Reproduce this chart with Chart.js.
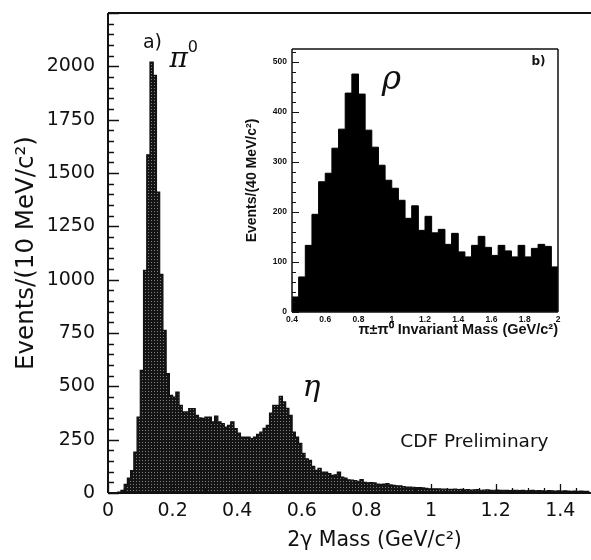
<!DOCTYPE html>
<html>
<head>
<meta charset="utf-8">
<script src="https://cdn.jsdelivr.net/npm/chart.js@4.4.1/dist/chart.umd.min.js"></script>
<style>
  html, body { margin: 0; padding: 0; background: #fff; }
  body { width: 591px; height: 560px; overflow: hidden; position: relative; }
  #main  { position: absolute; left: 0; top: 0; }
  #inset { position: absolute; left: 240px; top: 30px; }
</style>
</head>
<body>
<canvas id="main" width="650" height="560"></canvas>
<canvas id="inset" width="335" height="320"></canvas>
<script>
// a) two-photon mass, 10 MeV bins starting at 0
const gammaBinStart = 0;
const gammaBinWidth = 0.01;
const gammaCounts = [
  0, 0, 0, 4, 12, 40, 70, 105, 192, 356,
  575, 1044, 1585, 2020, 1958, 1411, 1025, 762, 560, 458,
  450, 473, 411, 380, 380, 396, 396, 364, 352, 350,
  356, 356, 333, 360, 333, 325, 309, 317, 333, 302,
  281, 262, 262, 262, 255, 262, 275, 285, 303, 317,
  374, 411, 411, 453, 427, 397, 364, 286, 262, 233,
  186, 160, 153, 125, 106, 115, 98, 98, 91, 83,
  85, 98, 75, 70, 62, 60, 58, 55, 63, 50,
  48, 49, 47, 42, 40, 42, 44, 38, 36, 34,
  33, 30, 28, 28, 27, 25, 25, 24, 22, 20,
  20, 20, 19, 18, 18, 17, 17, 18, 16, 17,
  15, 16, 14, 15, 16, 13, 14, 15, 12, 13,
  14, 12, 13, 12, 11, 12, 13, 11, 12, 10,
  11, 12, 10, 11, 10, 9, 11, 10, 9, 10,
  9, 10, 9, 8, 9, 8, 9, 8, 8
];
const gammaXTicks = [0, 0.2, 0.4, 0.6, 0.8, 1, 1.2, 1.4];
const gammaYTicks = [0, 250, 500, 750, 1000, 1250, 1500, 1750, 2000];

// b) pi+- pi0 mass, 40 MeV bins starting at 0.4
const pipiBinStart = 0.4;
const pipiBinWidth = 0.04;
const pipiCounts = [
  30, 70, 133, 195, 260, 277, 327, 365, 437, 475,
  435, 363, 329, 293, 263, 247, 223, 187, 212, 163,
  191, 158, 165, 135, 157, 120, 110, 133, 151, 129,
  113, 133, 122, 110, 133, 110, 127, 135, 131, 90
];
const pipiXTicks = [0.4, 0.6, 0.8, 1, 1.2, 1.4, 1.6, 1.8, 2];
const pipiYTicks = [0, 100, 200, 300, 400, 500];

const INK = '#111';
Chart.defaults.font.family = 'DejaVu Sans';
Chart.defaults.color = INK;

// histogram as a step outline: one point per left bin edge + closing edge
function steps(start, width, counts) {
  const pts = counts.map((c, i) => ({ x: start + i * width, y: c }));
  pts.push({ x: start + counts.length * width, y: counts[counts.length - 1] });
  return pts;
}

function inList(list, v) {
  return list.some(t => Math.abs(t - v) < 1e-6);
}

function fmtTick(v) {
  return String(Math.round(v * 10) / 10);
}

// dotted dark fill like the printed screen
function stipple(ctx) {
  const t = document.createElement('canvas');
  t.width = 3; t.height = 3;
  const c = t.getContext('2d');
  c.fillStyle = '#141414';
  c.fillRect(0, 0, 3, 3);
  c.fillStyle = '#808080';
  c.fillRect(1, 1, 1, 1);
  return ctx.createPattern(t, 'repeat');
}

// frame + inward tick marks
const framePlugin = {
  id: 'frame',
  afterDatasetsDraw(chart, args, o) {
    const { ctx, chartArea: a, scales: { x, y } } = chart;
    ctx.save();
    ctx.strokeStyle = INK;
    ctx.lineWidth = o.width;
    ctx.beginPath();
    ctx.moveTo(a.left, a.top); ctx.lineTo(a.right, a.top);
    ctx.moveTo(a.left, a.top); ctx.lineTo(a.left, a.bottom);
    ctx.moveTo(a.left, a.bottom); ctx.lineTo(a.right, a.bottom);
    if (o.right) { ctx.moveTo(a.right, a.top); ctx.lineTo(a.right, a.bottom); }
    ctx.stroke();

    ctx.lineWidth = o.tickWidth;
    ctx.beginPath();
    for (let v = y.min; v <= y.max + 1e-9; v += o.yMinor) {
      const py = Math.round(y.getPixelForValue(v)) + 0.5;
      const len = inList(o.yMajorList, v) ? o.majorLen : o.minorLen;
      ctx.moveTo(a.left, py); ctx.lineTo(a.left + len, py);
    }
    if (o.xMinor) {
      for (let v = x.min; v <= x.max + 1e-9; v += o.xMinor) {
        const px = Math.round(x.getPixelForValue(v)) + 0.5;
        const len = inList(o.xMajorList, v) ? o.majorLen - 2 : o.minorLen - 1;
        ctx.moveTo(px, a.bottom); ctx.lineTo(px, a.bottom - len);
      }
    }
    ctx.stroke();
    ctx.restore();
  }
};

// free text placed in data coordinates
const notesPlugin = {
  id: 'notes',
  afterDraw(chart, args, o) {
    const { ctx, scales: { x, y } } = chart;
    ctx.save();
    ctx.fillStyle = INK;
    ctx.textBaseline = 'alphabetic';
    for (const n of o.items) {
      ctx.font = n.font;
      ctx.textAlign = n.align || 'left';
      ctx.fillText(n.text, x.getPixelForValue(n.x), y.getPixelForValue(n.y));
    }
    ctx.restore();
  }
};

// fixed axis boxes so the plot area lands where the original has it
function fixY(w) {
  return s => { s.width = w; s.paddingTop = 0; s.paddingBottom = 0; };
}
function fixX(h) {
  return s => { s.height = h; s.paddingLeft = 0; s.paddingRight = 0; };
}

// ---- main chart a)
const mainCtx = document.getElementById('main').getContext('2d');
new Chart(mainCtx, {
  type: 'line',
  data: {
    datasets: [{
      data: steps(gammaBinStart, gammaBinWidth, gammaCounts),
      stepped: true,
      fill: 'origin',
      backgroundColor: stipple(mainCtx),
      borderColor: INK,
      borderWidth: 1.2,
      pointRadius: 0
    }]
  },
  options: {
    responsive: false,
    animation: false,
    events: [],
    layout: { padding: { left: 0, top: 13, right: 9, bottom: 0 } },
    plugins: {
      legend: { display: false },
      tooltip: { enabled: false },
      frame: {
        width: 2, right: false, tickWidth: 1.3,
        yMinor: 50, yMajorList: gammaYTicks.concat([2250]),
        xMinor: 0.05, xMajorList: gammaXTicks.concat([1.6]),
        majorLen: 11, minorLen: 6
      },
      notes: {
        items: [
          { text: 'a)', x: 0.108, y: 2086, font: '19px "DejaVu Sans"' },
          { text: 'π', x: 0.19, y: 1997, font: 'italic 28px "DejaVu Serif"' },
          { text: '0', x: 0.247, y: 2065, font: '16px "DejaVu Sans"' },
          { text: 'η', x: 0.602, y: 455, font: 'italic 30px "DejaVu Serif"' },
          { text: 'CDF Preliminary', x: 0.905, y: 214, font: '18.5px "DejaVu Sans"' }
        ]
      }
    },
    scales: {
      x: {
        type: 'linear', min: 0, max: 1.65,
        afterFit: fixX(67),
        grid: { display: false, drawTicks: false },
        border: { display: false },
        ticks: {
          stepSize: 0.2, padding: 7, autoSkip: false, maxRotation: 0,
          font: { size: 19 },
          callback: v => inList(gammaXTicks, v) ? fmtTick(v) : null
        },
        title: {
          display: true, text: '2γ Mass (GeV/c²)',
          font: { size: 20.5 }, padding: { top: 0, bottom: 7 }
        }
      },
      y: {
        type: 'linear', min: 0, max: 2250,
        afterFit: fixY(108),
        grid: { display: false, drawTicks: false },
        border: { display: false },
        ticks: {
          stepSize: 250, padding: 13, autoSkip: false,
          font: { size: 19 },
          callback: v => inList(gammaYTicks, v) ? String(v) : null
        },
        title: {
          display: true, text: 'Events/(10 MeV/c²)',
          font: { size: 24.5 }, padding: { top: 12, bottom: 0 }
        }
      }
    }
  },
  plugins: [framePlugin, notesPlugin]
});

// ---- inset b)
const insetCtx = document.getElementById('inset').getContext('2d');
new Chart(insetCtx, {
  type: 'line',
  data: {
    datasets: [{
      data: steps(pipiBinStart, pipiBinWidth, pipiCounts),
      stepped: true,
      fill: 'origin',
      backgroundColor: '#000',
      borderColor: '#000',
      borderWidth: 1,
      pointRadius: 0
    }]
  },
  options: {
    responsive: false,
    animation: false,
    events: [],
    layout: { padding: { left: 0, top: 19, right: 17, bottom: 0 } },
    plugins: {
      legend: { display: false },
      tooltip: { enabled: false },
      frame: {
        width: 1.5, right: true, tickWidth: 1,
        yMinor: 20, yMajorList: pipiYTicks,
        xMinor: 0, xMajorList: pipiXTicks,
        majorLen: 7, minorLen: 4
      },
      notes: {
        items: [
          { text: 'ρ', x: 0.94, y: 446, font: 'italic 33px "DejaVu Serif"' },
          { text: 'b)', x: 1.84, y: 493, font: 'bold 12px "DejaVu Sans"' }
        ]
      }
    },
    scales: {
      x: {
        type: 'linear', min: 0.4, max: 2,
        afterFit: fixX(38),
        grid: { display: false, drawTicks: false },
        border: { display: false },
        ticks: {
          stepSize: 0.2, padding: 3, autoSkip: false, maxRotation: 0,
          font: { size: 8.5, weight: 'bold', family: 'Liberation Sans' },
          callback: v => inList(pipiXTicks, v) ? fmtTick(v) : null
        },
        title: {
          display: true, text: 'π±π⁰ Invariant Mass (GeV/c²)', align: 'end',
          font: { size: 14.5, weight: 'bold', family: 'Liberation Sans' },
          padding: { top: 0, bottom: 11 }
        }
      },
      y: {
        type: 'linear', min: 0, max: 525,
        afterFit: fixY(52),
        grid: { display: false, drawTicks: false },
        border: { display: false },
        ticks: {
          stepSize: 100, padding: 5, autoSkip: false,
          font: { size: 8.5, weight: 'bold', family: 'Liberation Sans' },
          callback: v => inList(pipiYTicks, v) ? String(v) : null
        },
        title: {
          display: true, text: 'Events/(40 MeV/c²)',
          font: { size: 14, weight: 'bold', family: 'Liberation Sans' },
          padding: { top: 4, bottom: 0 }
        }
      }
    }
  },
  plugins: [framePlugin, notesPlugin]
});
</script>
</body>
</html>
